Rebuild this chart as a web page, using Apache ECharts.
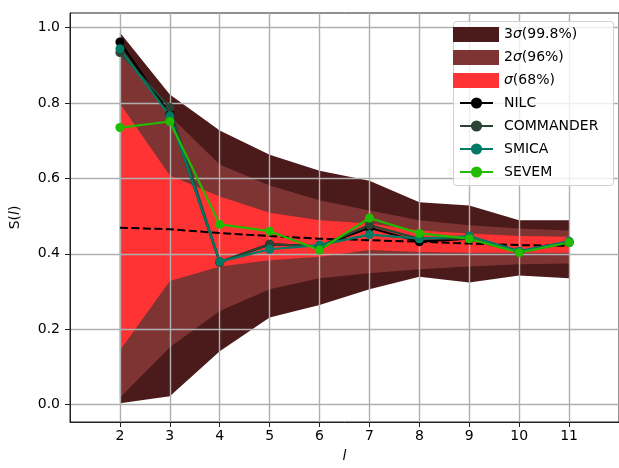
<!DOCTYPE html>
<html>
<head>
<meta charset="utf-8">
<script src="https://cdn.jsdelivr.net/npm/echarts@6/dist/echarts.min.js"></script>
<style>
html,body{margin:0;padding:0;background:#fff;}
#chart{width:619px;height:468px;}
</style>
</head>
<body>
<div id="chart"></div>
<script>
var ells = [2,3,4,5,6,7,8,9,10,11];
var xTicks = [2,3,4,5,6,7,8,9,10,11];
var yTicks = [0,0.2,0.4,0.6,0.8,1.0];

// bands (lower / upper)
var s3Low = [0.003,0.022,0.141,0.231,0.264,0.306,0.339,0.324,0.342,0.335];
var s3Up  = [0.987,0.823,0.727,0.663,0.620,0.594,0.537,0.528,0.489,0.489];
var s2Low = [0.018,0.152,0.248,0.306,0.335,0.348,0.359,0.366,0.372,0.374];
var s2Up  = [0.950,0.766,0.637,0.581,0.542,0.515,0.489,0.476,0.467,0.462];
var s1Low = [0.143,0.328,0.366,0.383,0.392,0.410,0.405,0.403,0.403,0.403];
var s1Up  = [0.799,0.608,0.552,0.509,0.489,0.480,0.462,0.454,0.447,0.445];

var meanVals = [0.469,0.465,0.455,0.447,0.440,0.436,0.432,0.427,0.423,0.421];

var nilc      = [0.962,0.770,0.378,0.425,0.420,0.469,0.432,0.440,0.405,0.430];
var commander = [0.934,0.788,0.378,0.425,0.420,0.476,0.440,0.440,0.405,0.430];
var smica     = [0.944,0.766,0.379,0.412,0.423,0.451,0.440,0.447,0.407,0.433];
var sevem     = [0.735,0.751,0.478,0.460,0.410,0.495,0.454,0.440,0.403,0.430];

var bandNames = ['3s','2s','1s'];
var bandLabels = {'3s':'3{i|σ}(99.8%)','2s':'2{i|σ}(96%)','1s':'{i|σ}(68%)'};
var bandColors = ['#4b1a1a','#7f3434','#ff3333'];

var chart = echarts.init(document.getElementById('chart'));

function pairs(vals){
    return ells.map(function(l,i){ return [l, vals[i]]; });
}

var series = [];
function addBand(name, lo, up, color){
    series.push({
        name: name, type: 'custom', color: color, silent: true, z: -1,
        itemStyle: {color: color},
        data: ells.map(function(l,i){ return [l, lo[i], up[i]]; }),
        encode: {x: 0, y: [1, 2]},
        renderItem: function(params, api){
            if (params.dataIndex !== 0) return;
            var top = [], bot = [];
            for (var i = 0; i < ells.length; i++) {
                top.push(api.coord([ells[i], up[i]]));
                bot.unshift(api.coord([ells[i], lo[i]]));
            }
            return {
                type: 'polygon',
                shape: {points: top.concat(bot)},
                style: {fill: color, stroke: null}
            };
        }
    });
}
addBand('3s', s3Low, s3Up, bandColors[0]);
addBand('2s', s2Low, s2Up, bandColors[1]);
addBand('1s', s1Low, s1Up, bandColors[2]);

series.push({
    name: 'mean', type: 'line', data: pairs(meanVals), symbol: 'none', z: 2,
    lineStyle: {color: '#000', width: 2, type: [8, 3.5]}
});

function addLine(name, vals, color){
    series.push({
        name: name, type: 'line', data: pairs(vals), color: color,
        symbol: 'circle', symbolSize: 9, z: 3,
        lineStyle: {color: color, width: 2.2},
        itemStyle: {color: color}
    });
}
addLine('NILC', nilc, '#000000');
addLine('COMMANDER', commander, '#2a4535');
addLine('SMICA', smica, '#007a64');
addLine('SEVEM', sevem, '#22bb00');

var font = 'DejaVu Sans';

chart.setOption({
    animation: false,
    backgroundColor: '#fff',
    grid: {left: 69, top: 13, right: -2, bottom: 44, show: true, borderColor: '#222', borderWidth: 1},
    xAxis: {
        type: 'value', min: 1, max: 12, interval: 1,
        name: 'l', nameLocation: 'middle', nameGap: 27,
        nameTextStyle: {fontFamily: font, fontSize: 14, fontStyle: 'italic', color: '#000'},
        axisLine: {show: true, onZero: false, lineStyle: {color: '#222'}},
        axisTick: {show: true, length: 5, lineStyle: {color: '#222'}, customValues: xTicks},
        axisLabel: {fontFamily: font, fontSize: 14, color: '#000', margin: 7, customValues: xTicks},
        splitLine: {show: true, lineStyle: {color: '#b0b0b0', width: 1.4}}
    },
    yAxis: {
        type: 'value', min: -0.0465, max: 1.039,
        name: 'S({i|l})', nameLocation: 'middle', nameGap: 48, nameRotate: 90,
        nameTextStyle: {fontFamily: font, fontSize: 14, color: '#000', rich: {i: {fontFamily: font, fontSize: 14, fontStyle: 'italic'}}},
        axisLine: {show: true, onZero: false, lineStyle: {color: '#222'}},
        axisTick: {show: true, length: 5, lineStyle: {color: '#222'}, customValues: yTicks},
        axisLabel: {fontFamily: font, fontSize: 14, color: '#000', margin: 10, customValues: yTicks,
            formatter: function(v){ return v.toFixed(1); }},
        splitLine: {show: true, lineStyle: {color: '#b0b0b0', width: 1.4}}
    },
    graphic: [{
        type: 'rect', left: 453, top: 21, z: 3,
        shape: {width: 160, height: 164, r: 3},
        style: {fill: 'rgba(255,255,255,0.8)', stroke: '#d0d0d0', lineWidth: 1}
    }],
    legend: [{
        data: bandNames, orient: 'vertical', left: 453, top: 27, z: 5,
        icon: 'rect', itemWidth: 46, itemHeight: 15, itemGap: 8, padding: 0,
        itemStyle: {borderWidth: 0},
        formatter: function(n){ return bandLabels[n]; },
        textStyle: {fontFamily: font, fontSize: 14, color: '#000', padding: [0,0,0,0],
            rich: {i: {fontFamily: font, fontSize: 14, fontStyle: 'italic'}}}
    }, {
        data: ['NILC','COMMANDER','SMICA','SEVEM'], orient: 'vertical', left: 459, top: 96, z: 5,
        itemWidth: 33, itemHeight: 14, itemGap: 9, padding: 0,
        textStyle: {fontFamily: font, fontSize: 14, color: '#000', padding: [0,0,0,6]}
    }],
    series: series
});
</script>
</body>
</html>
